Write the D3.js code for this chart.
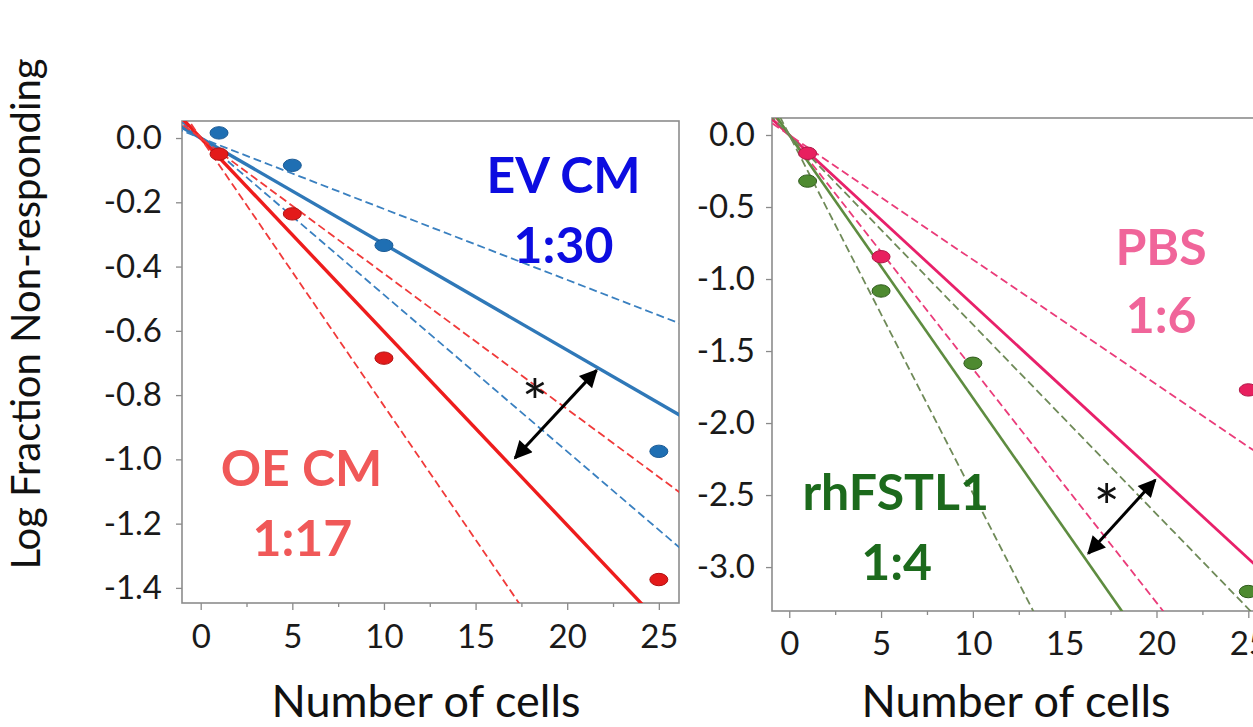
<!DOCTYPE html>
<html>
<head>
<meta charset="utf-8">
<script src="https://cdn.jsdelivr.net/npm/d3@7"></script>
<style>
  html, body { margin: 0; padding: 0; background: #fff; overflow: hidden; }
  svg { display: block; font-family: Lato, "Open Sans", sans-serif; }
</style>
</head>
<body>
<svg id="chart" width="1253" height="727"></svg>
<script>
// ---------- DATA ----------
const xTickValues = [0, 5, 10, 15, 20, 25];
const xMinorTicks = [2.5, 7.5, 12.5, 17.5, 22.5];
const leftYTicks = [0.0, -0.2, -0.4, -0.6, -0.8, -1.0, -1.2, -1.4];
const rightYTicks = [0.0, -0.5, -1.0, -1.5, -2.0, -2.5, -3.0];

// Left panel: EV CM (blue) and OE CM (red)
const evX = [1, 5, 10, 25];
const evY = [0.016, -0.085, -0.334, -0.975];
const oeX = [1, 5, 10, 25];
const oeY = [-0.05, -0.236, -0.685, -1.374];
// stem-cell frequency 1/f : [estimate, lower CI line, upper CI line]
const evFreq = [30.3, 45.3, 20.5];
const oeFreq = [16.6, 23.7, 12.0];

// Right panel: PBS (pink) and rhFSTL1 (green)
const pbsX = [1, 5, 25];
const pbsY = [-0.127, -0.845, -1.77];
const rhX = [1, 5, 10, 25];
const rhY = [-0.32, -1.083, -1.585, -3.17];
const pbsFreq = [8.5, 11.55, 6.16];
const rhFreq = [5.48, 7.6, 4.02];

// Annotation arrows (data coords)
const leftArrow = [[17.15, -0.996], [21.6, -0.723]];
const leftStar = [18.24, -0.809];
const rightArrow = [[16.29, -2.905], [19.93, -2.396]];
const rightStar = [17.29, -2.558];

const leftLabels = [
  {text: "EV CM", x: 19.8, y: -0.171, color: "#0c0ce0"},
  {text: "1:30", x: 19.8, y: -0.389, color: "#0c0ce0"},
  {text: "OE CM", x: 5.5, y: -1.084, color: "#f05858"},
  {text: "1:17", x: 5.55, y: -1.302, color: "#f05858"}
];
const rightLabels = [
  {text: "PBS", x: 20.25, y: -0.90, color: "#f0659a"},
  {text: "1:6", x: 20.25, y: -1.377, color: "#f0659a"},
  {text: "rhFSTL1", x: 5.8, y: -2.604, color: "#1c6a1c"},
  {text: "1:4", x: 5.85, y: -3.09, color: "#1c6a1c"}
];

// ---------- DRAW ----------
const svg = d3.select("#chart");
const defs = svg.append("defs");
defs.append("marker")
  .attr("id", "arrowHead")
  .attr("viewBox", "0 0 10 10")
  .attr("refX", 9).attr("refY", 5)
  .attr("markerWidth", 22).attr("markerHeight", 18)
  .attr("markerUnits", "userSpaceOnUse")
  .attr("orient", "auto-start-reverse")
  .append("path").attr("d", "M0,0 L10,5 L0,10 Z").attr("fill", "#000");

function panel(cfg) {
  const x = d3.scaleLinear().domain(cfg.xDomain).range(cfg.xRange);
  const y = d3.scaleLinear().domain(cfg.yDomain).range(cfg.yRange);
  const g = svg.append("g");
  const clipId = "clip" + cfg.id;
  defs.append("clipPath").attr("id", clipId)
    .append("rect")
    .attr("x", cfg.xRange[0]).attr("y", cfg.yRange[0])
    .attr("width", cfg.xRange[1] - cfg.xRange[0])
    .attr("height", cfg.yRange[1] - cfg.yRange[0]);

  // axes
  const xAxis = d3.axisBottom(x).tickValues(xTickValues).tickSize(7)
    .tickPadding(cfg.xPad).tickFormat(d3.format("d"));
  const xa = g.append("g").attr("transform", `translate(0,${cfg.yRange[1]})`).call(xAxis);
  const xMinor = d3.axisBottom(x).tickValues(xMinorTicks).tickSize(4).tickFormat("");
  const xm = g.append("g").attr("transform", `translate(0,${cfg.yRange[1]})`).call(xMinor);
  const yAxis = d3.axisLeft(y).tickValues(cfg.yTicks).tickSize(6)
    .tickPadding(cfg.yPad).tickFormat(d3.format(".1f"));
  const ya = g.append("g").attr("transform", `translate(${cfg.xRange[0]},0)`).call(yAxis);
  [xa, xm, ya].forEach(a => {
    a.select(".domain").remove();
    a.selectAll(".tick line").attr("stroke", "#8a8a8a").attr("stroke-width", 1.3);
    a.selectAll("text").attr("fill", "#1a1a1a").style("font-size", "33px")
      .style("font-family", "Lato, sans-serif");
  });
  ya.selectAll("text").text(d => d3.format(".1f")(d).replace("−", "-"));

  // frame
  g.append("rect")
    .attr("x", cfg.xRange[0]).attr("y", cfg.yRange[0])
    .attr("width", cfg.xRange[1] - cfg.xRange[0])
    .attr("height", cfg.yRange[1] - cfg.yRange[0])
    .attr("fill", "none").attr("stroke", "#8c8c8c").attr("stroke-width", 1.6);

  const plot = g.append("g").attr("clip-path", `url(#${clipId})`);
  const line = d3.line().x(d => x(d[0])).y(d => y(d[1]));
  const xs = [-2, 28];
  function drawLines(freqs, solidColor, dashColor, solidW, dashW) {
    freqs.forEach((f, i) => {
      plot.append("path")
        .datum(xs.map(v => [v, -v / f]))
        .attr("d", line)
        .attr("fill", "none")
        .attr("stroke", i === 0 ? solidColor : dashColor)
        .attr("stroke-width", i === 0 ? solidW : dashW)
        .attr("stroke-dasharray", i === 0 ? null : "8,4");
    });
  }
  cfg.series.forEach(s => drawLines(s.freq, s.solid, s.dash, s.solidW, s.dashW));
  cfg.series.forEach(s => {
    plot.selectAll(null).data(s.xs.map((v, i) => [v, s.ys[i]])).enter()
      .append("ellipse")
      .attr("cx", d => x(d[0])).attr("cy", d => y(d[1]))
      .attr("rx", 9).attr("ry", 6.2)
      .attr("fill", s.point).attr("stroke", s.pointStroke).attr("stroke-width", 1);
  });

  // arrow
  g.append("path")
    .datum(cfg.arrow)
    .attr("d", line)
    .attr("stroke", "#000").attr("stroke-width", 3).attr("fill", "none")
    .attr("marker-start", "url(#arrowHead)")
    .attr("marker-end", "url(#arrowHead)");
  g.append("text")
    .attr("x", x(cfg.star[0])).attr("y", y(cfg.star[1]) + 27)
    .attr("text-anchor", "middle")
    .style("font-size", "62px").style("font-family", "Lato, sans-serif")
    .attr("fill", "#111").text("*");

  // labels
  g.selectAll(null).data(cfg.labels).enter().append("text")
    .attr("x", d => x(d.x)).attr("y", d => y(d.y))
    .attr("text-anchor", "middle")
    .style("font-size", "50px").style("font-weight", "bold")
    .style("font-family", "Lato, sans-serif")
    .attr("fill", d => d.color).text(d => d.text);

  // x axis title
  g.append("text")
    .attr("x", cfg.titleX).attr("y", 717)
    .attr("text-anchor", "middle")
    .style("font-size", "45px").style("font-family", "Lato, sans-serif")
    .attr("fill", "#111").text("Number of cells");
}

panel({
  id: "L",
  xDomain: [-1.02, 26.1], xRange: [182, 679],
  yDomain: [0.053, -1.447], yRange: [121, 603],
  yTicks: leftYTicks, xPad: 15, yPad: 14,
  series: [
    {xs: evX, ys: evY, freq: evFreq, solid: "#2f78b8", dash: "#3a80c0", solidW: 3.4, dashW: 1.8, point: "#1f6fb3", pointStroke: "#1a5a95"},
    {xs: oeX, ys: oeY, freq: oeFreq, solid: "#ee1c1c", dash: "#f03a3a", solidW: 3.4, dashW: 1.8, point: "#e31a1a", pointStroke: "#b01010"}
  ],
  arrow: leftArrow, star: leftStar, labels: leftLabels, titleX: 426
});

panel({
  id: "R",
  xDomain: [-0.94, 26.1], xRange: [772, 1268.5],
  yDomain: [0.118, -3.305], yRange: [118, 611],
  yTicks: rightYTicks, xPad: 14, yPad: 11,
  series: [
    {xs: pbsX, ys: pbsY, freq: pbsFreq, solid: "#e8206a", dash: "#ea3c7a", solidW: 2.8, dashW: 1.8, point: "#e8205f", pointStroke: "#b01848"},
    {xs: rhX, ys: rhY, freq: rhFreq, solid: "#5e8c40", dash: "#6f8a58", solidW: 2.6, dashW: 1.8, point: "#4e8a30", pointStroke: "#2f5a1c"}
  ],
  arrow: rightArrow, star: rightStar, labels: rightLabels, titleX: 1016
});

// y axis title
svg.append("text")
  .attr("transform", "translate(40,314) rotate(-90)")
  .attr("text-anchor", "middle")
  .style("font-size", "40px").style("font-family", "Lato, sans-serif")
  .attr("fill", "#111").text("Log Fraction Non-responding");
</script>
</body>
</html>
